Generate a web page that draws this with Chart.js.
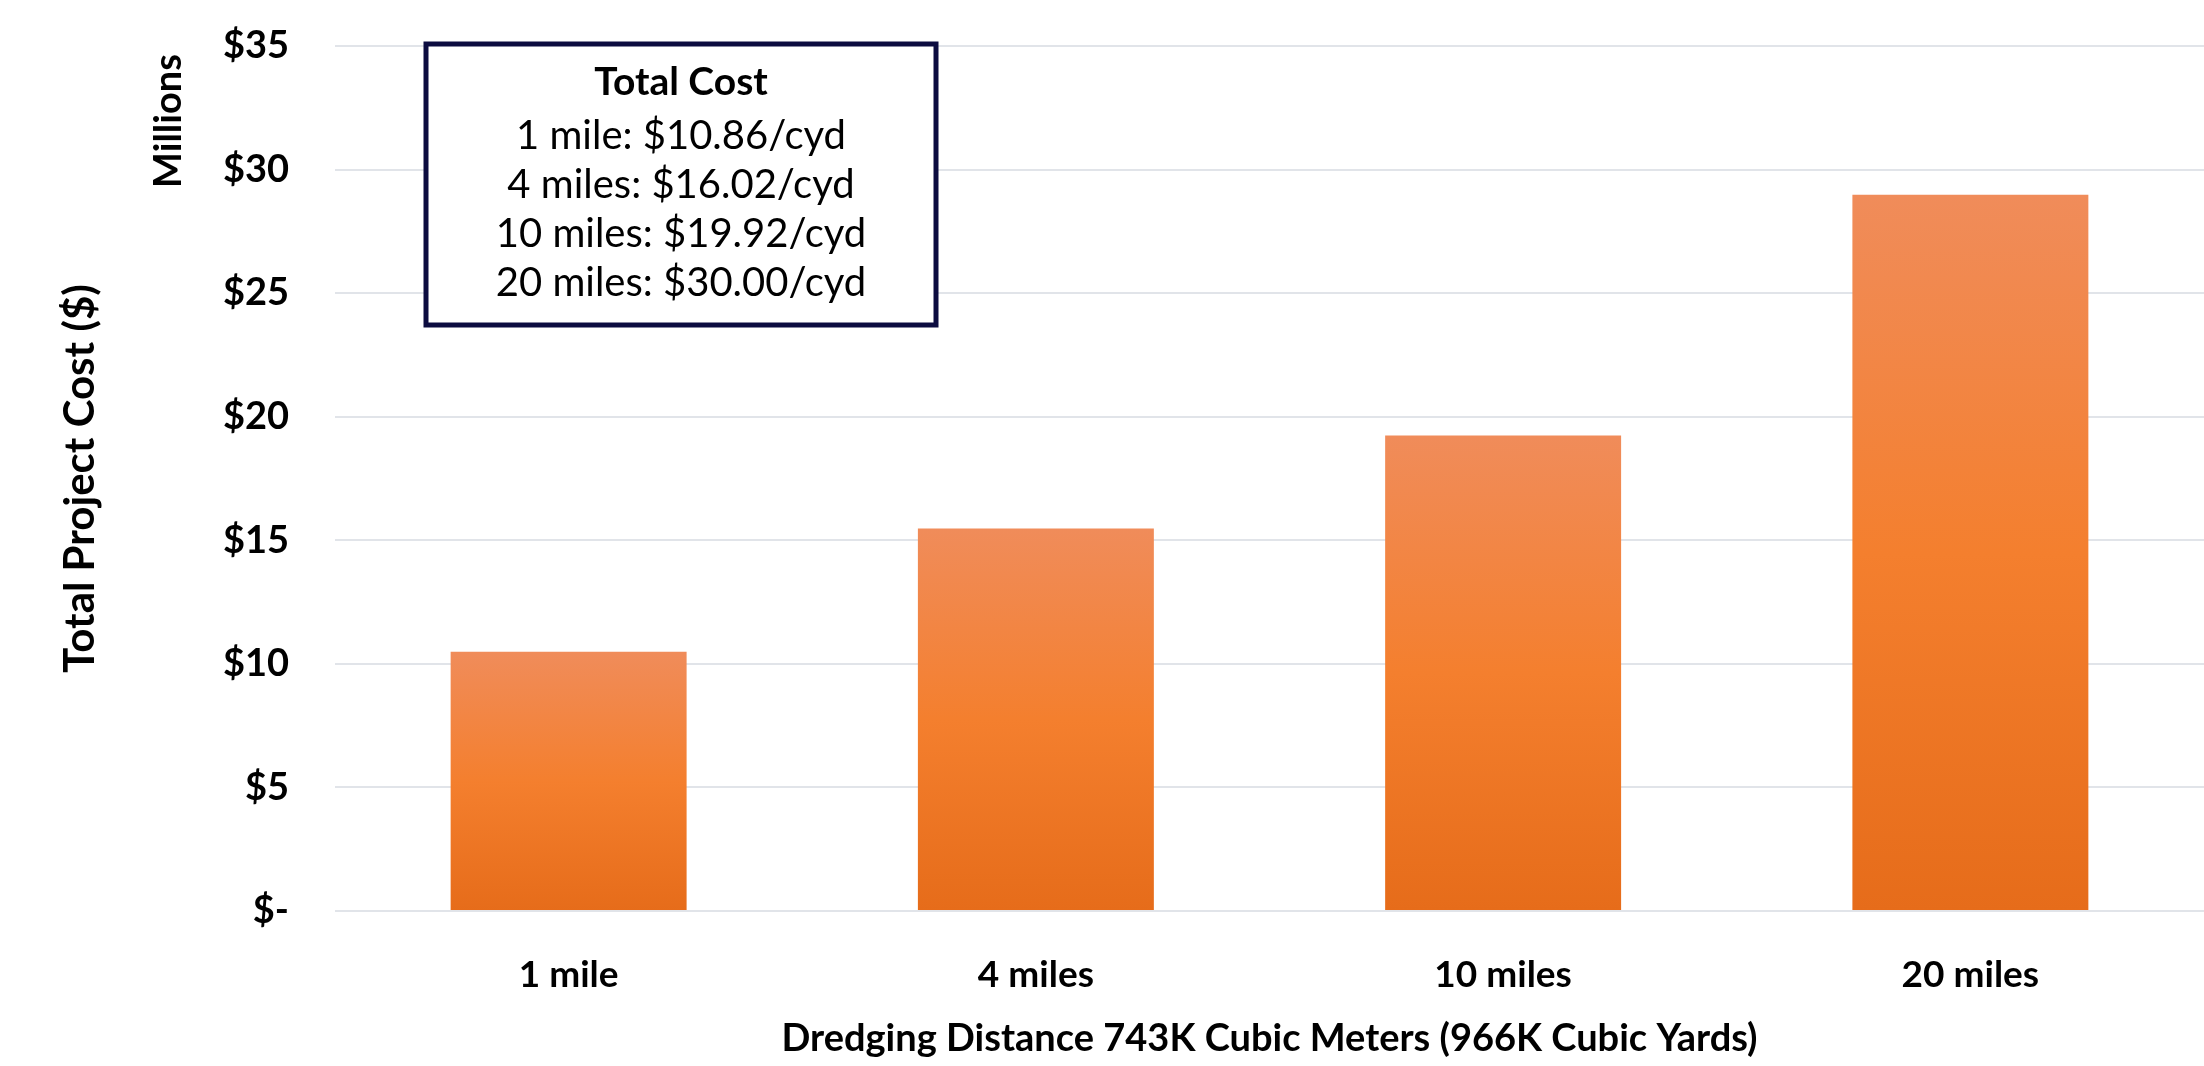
<!DOCTYPE html>
<html>
<head>
<meta charset="utf-8">
<title>Total Project Cost by Dredging Distance</title>
<script src="https://cdn.jsdelivr.net/npm/chart.js@4.4.1/dist/chart.umd.min.js"></script>
<style>
	html, body { margin: 0; padding: 0; background: #fff; }
	#wrap { width: 2204px; height: 1066px; }
</style>
</head>
<body>
<div id="wrap"><canvas id="myChart_cost"></canvas></div>
<script>
// Dredging distance vs total project cost ($ millions)
const distances = ['1 mile', '4 miles', '10 miles', '20 miles'];
const totalCost = [10.49, 15.48, 19.24, 28.98];
const costPerCyd = ['$10.86', '$16.02', '$19.92', '$30.00'];
const yTicks = [0, 5, 10, 15, 20, 25, 30, 35];

const fontFamily = 'Lato, "Open Sans", sans-serif';

// vertical orange gradient, lighter at the top of each bar
function barGradient(context) {
	const chart = context.chart;
	if (!chart.chartArea) return '#F47F2E';
	const y = chart.scales.y;
	const top = y.getPixelForValue(context.raw);
	const bottom = y.getPixelForValue(0);
	const g = chart.ctx.createLinearGradient(0, top, 0, bottom);
	g.addColorStop(0, '#F08C5A');
	g.addColorStop(0.5, '#F47F2E');
	g.addColorStop(1, '#E66C1A');
	return g;
}

// "Total Cost" box and the "Millions" unit label
const costNotes = {
	id: 'costNotes',
	afterDraw(chart) {
		const ctx = chart.ctx;
		const area = chart.chartArea;
		ctx.save();

		const bx = area.left + 91, by = area.top - 2, bw = 510, bh = 281;
		ctx.fillStyle = '#fff';
		ctx.fillRect(bx, by, bw, bh);
		ctx.lineWidth = 5;
		ctx.strokeStyle = '#0c0c40';
		ctx.strokeRect(bx, by, bw, bh);

		ctx.fillStyle = '#000';
		ctx.textAlign = 'center';
		ctx.textBaseline = 'middle';
		ctx.font = 'bold 39px ' + fontFamily;
		ctx.fillText('Total Cost', bx + bw / 2, by + 38);
		ctx.font = '40px ' + fontFamily;
		distances.forEach((d, i) => {
			ctx.fillText(d + ': ' + costPerCyd[i] + '/cyd', bx + bw / 2, by + 92 + i * 49);
		});

		ctx.translate(area.left - 166, area.top + 75);
		ctx.rotate(-Math.PI / 2);
		ctx.font = 'bold 38px ' + fontFamily;
		ctx.fillText('Millions', 0, 0);
		ctx.restore();
	}
};

const ctx = document.getElementById('myChart_cost').getContext('2d');
const myChart_cost = new Chart(ctx, {
	type: 'bar',
	data: {
		labels: distances,
		datasets: [{
			label: 'Total Project Cost',
			data: totalCost,
			backgroundColor: barGradient,
			borderWidth: 0,
			barPercentage: 0.505,
			categoryPercentage: 1,
		}]
	},
	options: {
		animation: false,
		maintainAspectRatio: false,
		responsive: true,
		layout: {
			padding: { top: 46, right: 0, bottom: 0, left: 0 }
		},
		scales: {
			x: {
				grid: { display: false },
				border: { display: false },
				ticks: {
					color: '#000',
					padding: 34,
					font: { family: fontFamily, size: 37, weight: 'bold' }
				},
				title: {
					display: true,
					text: 'Dredging Distance 743K Cubic Meters (966K Cubic Yards)',
					color: '#000',
					padding: { top: 0, bottom: 4 },
					font: { family: fontFamily, size: 38, weight: 'bold' }
				},
				afterFit(scale) { scale.height = 155; }
			},
			y: {
				min: 0,
				max: 35,
				afterBuildTicks(scale) {
					scale.ticks = yTicks.map(v => ({ value: v }));
				},
				grid: {
					color: '#E1E4E9',
					lineWidth: 2,
					drawTicks: false
				},
				border: { display: false },
				ticks: {
					color: '#000',
					padding: 46,
					font: { family: fontFamily, size: 38, weight: 'bold' },
					callback: function (value) {
						return value === 0 ? '$-' : '$' + value;
					}
				},
				title: {
					display: true,
					text: 'Total Project Cost ($)',
					color: '#000',
					padding: { top: 55, bottom: 0 },
					font: { family: fontFamily, size: 42, weight: 'bold' }
				},
				afterFit(scale) {
					scale.width = 335;
					scale.paddingTop = 0;
					scale.paddingBottom = 0;
				}
			}
		},
		plugins: {
			legend: { display: false },
			tooltip: { enabled: false },
			title: { display: false }
		}
	},
	plugins: [costNotes]
});
</script>
</body>
</html>
